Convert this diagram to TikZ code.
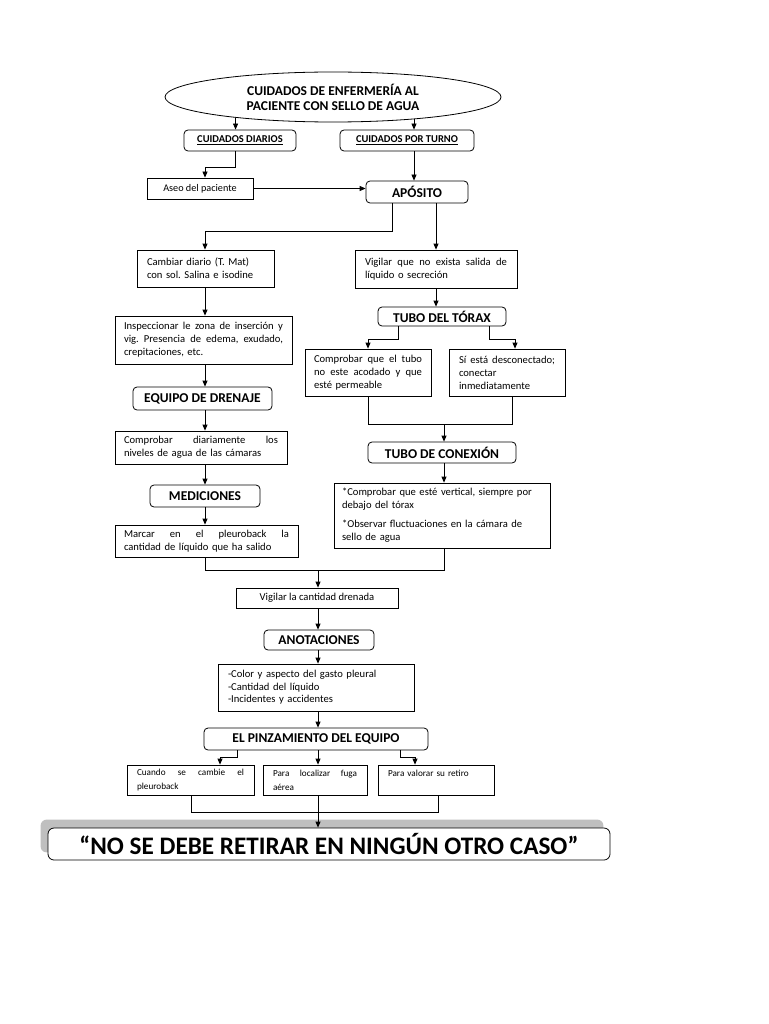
\documentclass[tikz,border=0pt]{standalone}
\usepackage{fontspec}
\setmainfont{Carlito}
\frenchspacing
\usetikzlibrary{arrows.meta,shapes.geometric,backgrounds}
\newcommand\bodyf{\fontsize{10.6}{13}\selectfont}
\newcommand\aseof{\fontsize{10.2}{13}\selectfont}
\newcommand\headf{\fontsize{13.5}{15}\selectfont\bfseries}
\newcommand\labf{\fontsize{10.5}{12}\selectfont\bfseries}
\newcommand\titlef{\fontsize{13.5}{15}\selectfont\bfseries}
\newcommand\smallf{\fontsize{9.2}{14}\selectfont}
\newcommand\finalf{\fontsize{25.2}{28}\selectfont\bfseries}
\newcommand\sline[1]{\makebox[\linewidth][s]{\spaceskip=0pt\xspaceskip=0pt #1}}
\begin{document}
\begin{tikzpicture}[x=1pt,y=-1pt,
  wh/.style 2 args={minimum width=#1pt,minimum height=#2pt},
  tw/.style={text width=#1pt},
  ell/.style={draw,ellipse,line width=0.8pt,inner sep=0pt,align=center},
  rbox/.style={draw,rounded corners=4pt,line width=0.8pt,inner sep=0pt,align=center,font=\headf},
  sbox/.style={draw,line width=0.8pt,inner xsep=10pt,inner ysep=0pt,font=\bodyf},
  tbox/.style={sbox,align=left},
  ln/.style={line width=0.8pt},
  arr/.style={ln,-{Triangle[length=6pt,width=5pt]}}]
\useasboundingbox (0,0) rectangle (768,1024);
\begin{scope}[on background layer]
\fill[white] (0,0) rectangle (768,1024);
\end{scope}

% columns and bends
\coordinate (colL) at (205,0);
\coordinate (colC) at (318,0);
\coordinate (xR) at (414,0);

\node[ell,wh={336}{50},font=\titlef] (title) at (333,97) {CUIDADOS DE ENFERMERÍA AL\\PACIENTE CON SELLO DE AGUA};
\node[rbox,wh={112}{21},font=\labf] (diarios) at (240,140.5) {\underline{CUIDADOS DIARIOS}};
\node[rbox,wh={134}{21},font=\labf] (porturno) at (407,140.5) {\underline{CUIDADOS POR TURNO}};
\node[sbox,wh={106}{21},font=\aseof] (aseo) at (200,188.5) {Aseo del paciente};
\node[rbox,wh={102}{22}] (aposito) at (417,192) {APÓSITO};

\node[tbox,wh={137}{37},tw=117] (cambiar) at (205.5,268.5) {Cambiar diario (T. Mat)\\con sol. Salina e isodine};
\node[tbox,wh={162}{38},tw=142] (vigilar) at (436,269) {\sline{Vigilar que no exista salida de}\\líquido o secreción};
\node[tbox,wh={177}{48},tw=159,inner xsep=9pt] (inspec) at (203.5,340) {\sline{Inspeccionar le zona de inserción y}\\\sline{vig. Presencia de edema, exudado,}\\crepitaciones, etc.};
\node[rbox,wh={128}{19}] (tubotorax) at (442,316.5) {TUBO DEL TÓRAX};
\node[tbox,wh={126}{47},tw=108,inner xsep=9pt] (comprobar) at (368,372.5) {\sline{Comprobar que el tubo}\\\sline{no este acodado y que}\\esté permeable};
\node[tbox,wh={116}{47},tw=96] (si) at (507,372.5) {\sline{Sí está desconectado;}\\conectar\\inmediatamente};
\node[rbox,wh={139}{23}] (equipo) at (202.5,398.5) {EQUIPO DE DRENAJE};
\node[tbox,wh={172}{33},tw=154,inner xsep=9pt] (compdiar) at (201,447.5) {\sline{Comprobar diariamente los}\\niveles de agua de las cámaras};
\node[rbox,wh={148}{21}] (tuboconex) at (442,452.5) {TUBO DE CONEXIÓN};
\node[rbox,wh={110}{22}] (mediciones) at (205,496) {MEDICIONES};
\node[tbox,wh={216}{65},tw=200,inner xsep=8pt] (obs) at (442,515.5) {*Comprobar que esté vertical, siempre por\\debajo del tórax\\[6pt]*Observar fluctuaciones en la cámara de\\sello de agua};
\node[tbox,wh={183}{32},tw=165,inner xsep=9pt] (marcar) at (206.5,541) {\sline{Marcar en el pleuroback la}\\cantidad de líquido que ha salido};

\node[sbox,wh={162}{20}] (vigcant) at (317,598) {Vigilar la cantidad drenada};
\node[rbox,wh={110}{20}] (anot) at (319,640) {ANOTACIONES};
\node[tbox,wh={196}{47},tw=176,font=\fontsize{10.6}{12.5}\selectfont] (notes) at (316,687.5) {-Color y aspecto del gasto pleural\\-Cantidad del líquido\\-Incidentes y accidentes};
\node[rbox,wh={224}{22}] (pinz) at (316,739) {EL PINZAMIENTO DEL EQUIPO};
\node[tbox,wh={127}{30},tw=107,font=\smallf] (cuando) at (190.5,780) {\sline{Cuando se cambie el}\\pleuroback};
\node[tbox,wh={104}{30},tw=84,font=\smallf] (para1) at (315,780) {\sline{Para localizar fuga}\\aérea};
\node[tbox,wh={116}{30},tw=96,font=\smallf] (para2) at (436,780) {Para valorar su retiro\\\mbox{}};
\node[rbox,rounded corners=6pt,fill=white,wh={562}{32},font=\finalf] (final) at (329,844) {“NO SE DEBE RETIRAR EN NINGÚN OTRO CASO”};
\begin{scope}[on background layer]
\fill[gray!50,rounded corners=6pt] ([xshift=-7pt,yshift=8pt]final.south west) rectangle ([xshift=-7pt,yshift=8pt]final.north east);
\end{scope}

% connectors
\draw[arr] (title.192) -- (title.192 |- diarios.north);
\draw[arr] (title.345 -| xR) -- (porturno.north -| xR);
\draw[arr] (porturno.south -| xR) -- (aposito.north -| xR);
\coordinate (c1) at (205,167);
\draw[arr] (diarios.south -| title.192) |- (c1) -- (c1 |- aseo.north);
\draw[arr] (aseo.east) -- (aseo.east -| aposito.west);
\coordinate (c2) at (392,231);
\draw[arr] (aposito.south -| c2) -- (c2) -| (cambiar.north -| colL);
\draw[arr] (aposito.south -| vigilar.north) -- (vigilar.north);

\draw[arr] (cambiar.south -| colL) -- (inspec.north -| colL);
\draw[arr] (inspec.south -| colL) -- (equipo.north -| colL);
\draw[arr] (equipo.south -| colL) -- (compdiar.north -| colL);
\draw[arr] (compdiar.south -| colL) -- (mediciones.north -| colL);
\draw[arr] (mediciones.south -| colL) -- (marcar.north -| colL);

\draw[arr] (vigilar.south) -- (vigilar.south |- tubotorax.north);
\coordinate (c3) at (398,339);
\coordinate (c4) at (489,339);
\coordinate (c5) at (515,0);
\draw[arr] (tubotorax.south -| c3) -- (c3) -| (comprobar.north);
\draw[arr] (tubotorax.south -| c4) -- (c4) -| (si.north -| c5);
\coordinate (m1) at (0,424);
\coordinate (c6) at (512,0);
\draw[ln] (comprobar.south) -- (comprobar.south |- m1) -- (m1 -| c6) -- (si.south -| c6);
\coordinate (c10) at (444,0);
\draw[arr] (m1 -| c10) -- (tuboconex.north -| c10);
\draw[arr] (tuboconex.south -| c10) -- (obs.north -| c10);

\coordinate (m2) at (0,570);
\draw[ln] (marcar.south -| colL) -- (m2 -| colL) -- (m2 -| c10) -- (obs.south -| c10);
\draw[arr] (m2 -| colC) -- (vigcant.north -| colC);
\draw[arr] (vigcant.south -| colC) -- (anot.north -| colC);
\draw[arr] (anot.south -| colC) -- (notes.north -| colC);
\draw[arr] (notes.south -| colC) -- (pinz.north -| colC);

\coordinate (c7) at (237,757);
\coordinate (c8) at (400,757);
\coordinate (c9) at (220,0);
\coordinate (c11) at (415,0);
\draw[arr] (pinz.south -| c7) -- (c7) -| (cuando.north -| c9);
\draw[arr] (pinz.south -| colC) -- (para1.north -| colC);
\draw[arr] (pinz.south -| c8) -- (c8) -| (para2.north -| c11);
\coordinate (m3) at (0,812);
\coordinate (c12) at (191,0);
\coordinate (c13) at (438,0);
\draw[ln] (cuando.south -| c12) -- (m3 -| c12) -- (m3 -| c13) -- (para2.south -| c13);
\draw[arr] (para1.south -| colC) -- (final.north -| colC);
\end{tikzpicture}
\end{document}
